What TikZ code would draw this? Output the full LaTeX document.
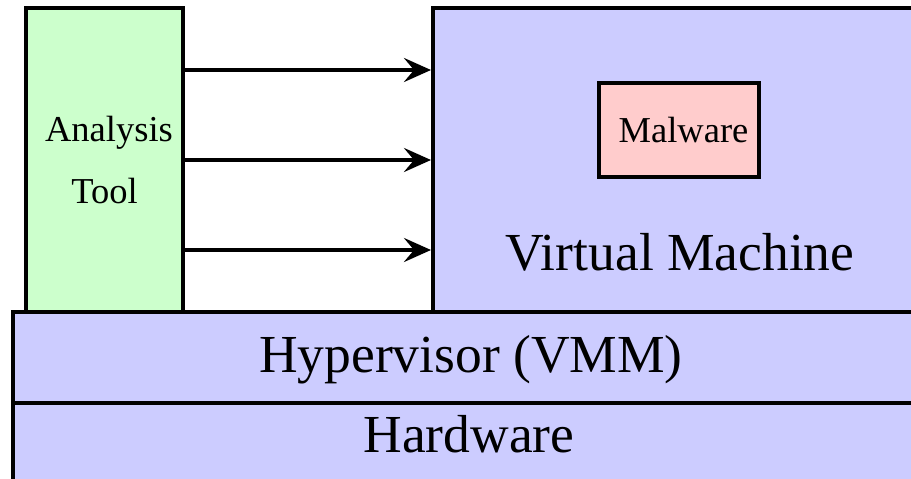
\documentclass[tikz,border=0pt]{standalone}
\usepackage{fontspec}
\setmainfont{Liberation Serif}
\usetikzlibrary{arrows.meta}
\definecolor{vmblue}{HTML}{CCCCFF}
\definecolor{toolgreen}{HTML}{CCFFCC}
\definecolor{malpink}{HTML}{FFCCCC}
\begin{document}
\begin{tikzpicture}[x=1pt,y=-1pt,
  layer/.style={draw=black,line width=4pt,rectangle,inner sep=0pt},
  bigtext/.style={font=\fontsize{53.5}{60}\selectfont,anchor=base,inner sep=0pt},
  smalltext/.style={font=\fontsize{36.5}{44}\selectfont,anchor=base,inner sep=0pt},
  arr/.style={line width=4pt,-{Stealth[length=27pt,width=24pt,inset=10pt]}}]
\useasboundingbox (0,0) rectangle (911,479);
\clip (0,0) rectangle (911,479);
\fill[white] (0,0) rectangle (911,479);
% Analysis tool
\node[layer,fill=toolgreen,minimum width=157pt,minimum height=304pt] (tool) at (104.5,160) {};
\node[smalltext] (t1) at (109,141) {Analysis};
\node[smalltext] (t2) at (104.5,203) {Tool};
% Virtual machine
\node[layer,fill=vmblue,minimum width=497pt,minimum height=304pt] (vm) at (681.5,160) {};
\node[layer,fill=malpink,minimum width=160pt,minimum height=94pt] (mal) at (679,130) {};
\node[smalltext] (maltext) at (683.5,142) {Malware};
\node[bigtext] (vmtext) at (680,270) {Virtual Machine};
% Hypervisor and hardware
\node[layer,fill=vmblue,minimum width=917pt,minimum height=91pt] (hyp) at (471.5,357.5) {};
\node[bigtext] (hyptext) at (471,372) {Hypervisor (VMM)};
\node[layer,fill=vmblue,minimum width=917pt,minimum height=100pt] (hw) at (471.5,453) {};
\node[bigtext] (hwtext) at (469,452) {Hardware};
% arrows
\foreach \yy in {70,160,250}{
  \draw[arr] (tool.east |- 0,\yy) -- (vm.west |- 0,\yy);
}
\end{tikzpicture}
\end{document}
